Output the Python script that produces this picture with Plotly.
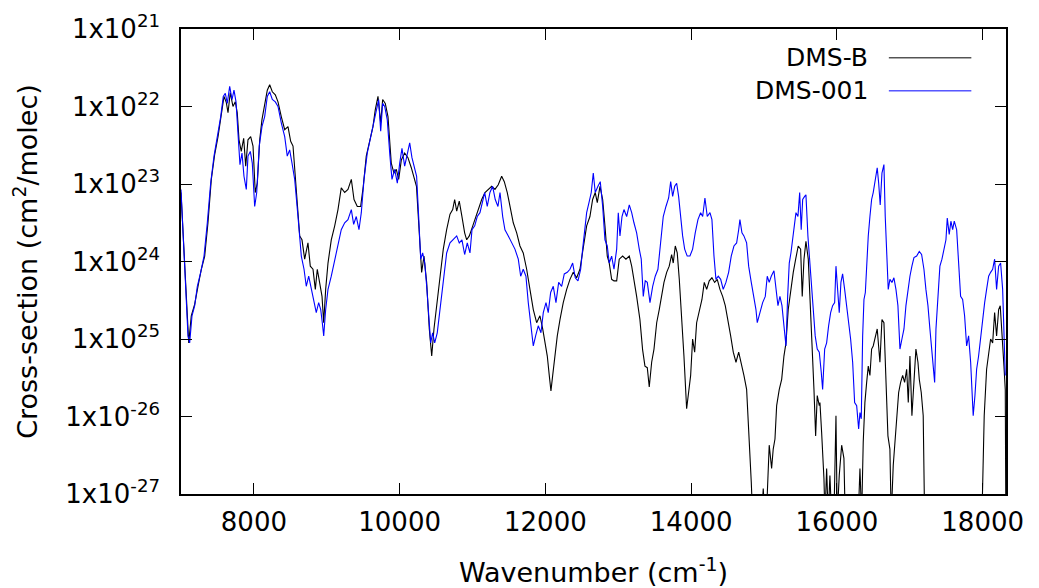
import plotly.graph_objects as go

# ---------------- data ----------------
# Wavenumber (cm^-1) and log10 of cross-section (cm^2/molec)
dmsb_wn = [7000, 7106, 7141, 7188, 7233, 7279, 7325, 7370, 7416, 7462, 7508, 7553, 7590, 7622, 7645,
           7676, 7713, 7745, 7772, 7796, 7827, 7860, 7888, 7919, 7956, 7988, 8019, 8047, 8080, 8111,
           8148, 8184, 8217, 8253, 8294, 8331, 8376, 8423, 8468, 8505, 8537, 8582, 8629, 8660, 8697,
           8742, 8774, 8811, 8843, 8870, 8903, 8935, 8958, 8985, 9017, 9062, 9109, 9154, 9199, 9246,
           9291, 9337, 9374, 9419, 9465, 9501, 9542, 9589, 9634, 9666, 9703, 9740, 9767, 9803, 9840,
           9885, 9922, 9954, 9987, 10023, 10069, 10114, 10160, 10231, 10269, 10302, 10334, 10371, 10407,
           10440, 10471, 10508, 10553, 10599, 10645, 10691, 10728, 10755, 10783, 10818, 10855, 10892,
           10920, 10956, 10993, 11034, 11079, 11126, 11171, 11216, 11263, 11308, 11353, 11400, 11436,
           11477, 11514, 11559, 11606, 11651, 11696, 11743, 11788, 11834, 11880, 11925, 11963, 11994,
           12026, 12053, 12076, 12100, 12131, 12163, 12200, 12245, 12292, 12337, 12382, 12429, 12474,
           12520, 12566, 12611, 12648, 12684, 12712, 12749, 12786, 12817, 12849, 12876, 12909, 12941,
           12978, 13013, 13060, 13105, 13151, 13184, 13215, 13252, 13297, 13334, 13366, 13398, 13425,
           13458, 13490, 13527, 13562, 13595, 13627, 13664, 13699, 13732, 13754, 13782, 13809, 13837,
           13870, 13901, 13938, 13966, 13993, 14020, 14048, 14075, 14111, 14148, 14180, 14213, 14248,
           14285, 14322, 14358, 14395, 14432, 14468, 14505, 14542, 14578, 14615, 14652, 14687, 14724,
           14761, 14797, 14825, 14844, 14903, 14930, 14967, 14989, 15012, 15036, 15071, 15104, 15126,
           15150, 15173, 15209, 15242, 15273, 15301, 15332, 15365, 15401, 15434, 15469, 15502, 15524,
           15548, 15575, 15607, 15639, 15667, 15685, 15708, 15730, 15758, 15767, 15790, 15804, 15822,
           15836, 15859, 15881, 15904, 15928, 15959, 15987, 16004, 16032, 16065, 16096, 16114, 16206,
           16293, 16316, 16339, 16361, 16384, 16408, 16430, 16453, 16476, 16498, 16526, 16553, 16590,
           16618, 16645, 16673, 16700, 16727, 16745, 16773, 16796, 16819, 16847, 16874, 16902, 16929,
           16957, 16979, 17002, 17029, 17057, 17084, 17112, 17130, 17157, 17184, 17203, 17551, 17990,
           18008, 18021, 18054, 18082, 18109, 18137, 18164, 18191, 18219, 18241, 18264, 18292, 18310,
           18318]
dmsb_log10 = [-23.11, -25.05, -24.70, -24.55, -24.32, -24.10, -23.93, -23.50, -22.94, -22.62, -22.39,
              -22.09, -21.87, -21.95, -22.08, -21.82, -22.00, -21.94, -22.08, -22.43, -22.58, -22.41,
              -22.77, -22.43, -22.39, -22.51, -23.11, -22.99, -22.43, -22.17, -22.00, -21.79, -21.72,
              -21.81, -21.85, -21.94, -22.13, -22.30, -22.26, -22.45, -22.51, -23.03, -23.67, -23.72,
              -23.97, -23.76, -24.06, -24.10, -24.36, -24.10, -24.27, -24.45, -24.79, -24.36, -24.02,
              -23.72, -23.54, -23.33, -23.05, -23.11, -23.07, -22.94, -23.20, -23.29, -23.29, -23.03,
              -22.64, -22.43, -22.26, -22.04, -21.87, -22.21, -21.91, -21.96, -22.13, -22.73, -22.86,
              -22.81, -22.94, -22.69, -22.60, -22.66, -22.79, -23.03, -23.63, -24.14, -23.93, -24.27,
              -24.87, -25.22, -24.87, -24.57, -24.27, -23.84, -23.59, -23.39, -23.33, -23.20, -23.35,
              -23.22, -23.42, -23.63, -23.72, -23.67, -23.57, -23.46, -23.33, -23.20, -23.11, -23.07,
              -23.03, -23.07, -23.01, -22.90, -22.97, -23.11, -23.29, -23.50, -23.63, -23.80, -23.89,
              -24.10, -24.36, -24.62, -24.79, -24.70, -24.87, -25.05, -25.22, -25.47, -25.67, -25.47,
              -25.22, -24.96, -24.75, -24.53, -24.36, -24.23, -24.14, -24.21, -24.10, -23.84, -23.54,
              -23.42, -23.20, -23.11, -23.24, -23.03, -23.20, -23.54, -23.93, -24.02, -24.23, -24.25,
              -24.25, -23.97, -23.93, -23.97, -23.93, -24.06, -24.23, -24.45, -24.75, -25.14, -25.35,
              -25.37, -25.62, -25.30, -25.13, -24.79, -24.62, -24.45, -24.27, -24.14, -24.06, -23.91,
              -24.02, -23.80, -23.89, -24.23, -24.70, -25.22, -25.90, -25.65, -25.47, -25.00, -25.17,
              -24.79, -24.62, -24.49, -24.27, -24.36, -24.25, -24.21, -24.27, -24.23, -24.36, -24.45,
              -24.57, -24.75, -24.96, -25.17, -25.30, -25.17, -25.30, -25.47, -25.65, -26.25, -26.85,
              -27.30, -27.50, -27.50, -27.30, -26.93, -27.30, -27.20, -26.37, -26.67, -26.42, -26.29,
              -25.86, -25.65, -25.52, -25.22, -25.05, -24.62, -24.36, -24.14, -23.97, -23.80, -23.84,
              -24.45, -23.97, -23.74, -23.97, -24.62, -25.13, -25.65, -26.25, -25.73, -25.86, -25.82,
              -26.20, -26.42, -26.80, -27.30, -26.67, -27.30, -26.76, -27.30, -27.30, -25.99, -27.30,
              -26.76, -26.37, -26.54, -27.30, -27.50, -27.30, -26.67, -27.30, -26.33, -25.82, -25.56,
              -25.35, -25.47, -25.13, -25.09, -24.96, -24.87, -25.30, -24.75, -24.79, -25.56, -26.25,
              -26.42, -27.30, -26.63, -26.33, -25.95, -25.69, -25.56, -25.47, -25.56, -25.39, -25.82,
              -25.22, -25.99, -25.52, -25.13, -25.30, -25.52, -25.69, -25.99, -27.30, -27.50, -27.30,
              -26.67, -25.99, -25.39, -25.22, -25.00, -25.05, -24.66, -24.96, -24.62, -24.57, -24.87,
              -25.35, -25.65, -27.30]

dms001_wn = [7000, 7051, 7096, 7119, 7151, 7188, 7224, 7270, 7316, 7361, 7407, 7453, 7498, 7545, 7580,
             7608, 7635, 7668, 7700, 7727, 7755, 7782, 7809, 7837, 7864, 7896, 7919, 7951, 7978, 8011,
             8039, 8074, 8111, 8148, 8184, 8217, 8253, 8294, 8331, 8376, 8423, 8458, 8491, 8523, 8560,
             8605, 8651, 8688, 8719, 8752, 8788, 8825, 8856, 8889, 8917, 8939, 8958, 8985, 9017, 9062,
             9109, 9154, 9199, 9246, 9291, 9337, 9369, 9405, 9442, 9474, 9511, 9556, 9603, 9648, 9685,
             9712, 9740, 9767, 9795, 9830, 9867, 9895, 9932, 9968, 10001, 10032, 10069, 10105, 10138,
             10169, 10215, 10233, 10261, 10289, 10316, 10344, 10371, 10398, 10426, 10453, 10481, 10516,
             10553, 10599, 10645, 10691, 10736, 10783, 10818, 10855, 10892, 10928, 10965, 10993, 11030,
             11065, 11102, 11139, 11167, 11202, 11239, 11276, 11312, 11349, 11377, 11414, 11445, 11491,
             11537, 11582, 11628, 11661, 11696, 11733, 11765, 11798, 11834, 11866, 11902, 11939, 11971,
             12008, 12039, 12072, 12108, 12145, 12182, 12223, 12259, 12300, 12337, 12374, 12410, 12447,
             12484, 12511, 12539, 12566, 12598, 12629, 12657, 12684, 12721, 12753, 12786, 12817, 12849,
             12876, 12909, 12941, 12978, 13000, 13023, 13051, 13078, 13115, 13151, 13184, 13215, 13252,
             13288, 13315, 13343, 13370, 13398, 13435, 13472, 13507, 13544, 13581, 13617, 13654, 13691,
             13719, 13746, 13774, 13801, 13828, 13856, 13883, 13911, 13946, 13983, 14020, 14056, 14093,
             14130, 14158, 14189, 14221, 14258, 14285, 14313, 14340, 14372, 14405, 14440, 14477, 14514,
             14550, 14587, 14624, 14652, 14669, 14697, 14724, 14761, 14789, 14825, 14862, 14889, 14907,
             14944, 14981, 15017, 15044, 15071, 15099, 15136, 15163, 15191, 15218, 15246, 15273, 15301,
             15324, 15346, 15369, 15393, 15415, 15438, 15465, 15489, 15510, 15530, 15557, 15575, 15602,
             15630, 15653, 15675, 15702, 15730, 15758, 15785, 15804, 15832, 15859, 15886, 15914, 15941,
             15969, 15987, 16014, 16032, 16055, 16078, 16106, 16133, 16161, 16188, 16216, 16243, 16271,
             16298, 16316, 16334, 16353, 16371, 16390, 16408, 16430, 16453, 16476, 16498, 16526, 16553,
             16573, 16594, 16618, 16645, 16663, 16682, 16704, 16727, 16755, 16782, 16810, 16837, 16865,
             16892, 16920, 16947, 16974, 17002, 17029, 17057, 17094, 17130, 17162, 17194, 17221, 17249,
             17276, 17304, 17322, 17341, 17359, 17376, 17396, 17413, 17441, 17468, 17496, 17514, 17541,
             17564, 17588, 17610, 17643, 17670, 17697, 17725, 17752, 17780, 17807, 17835, 17853, 17870,
             17894, 17917, 17944, 17972, 17999, 18027, 18054, 18082, 18109, 18137, 18164, 18191, 18219,
             18246, 18274, 18292, 18310]
dms001_log10 = [-23.07, -24.10, -24.96, -25.05, -24.70, -24.57, -24.32, -24.14, -23.93, -23.50, -22.99,
                -22.64, -22.39, -22.13, -21.87, -21.83, -21.96, -21.74, -21.91, -21.79, -21.94, -22.34,
                -22.75, -22.60, -22.90, -23.07, -22.64, -22.58, -22.73, -23.29, -23.11, -22.51, -22.26,
                -22.13, -21.87, -21.81, -21.91, -21.94, -22.00, -22.21, -22.39, -22.64, -22.56, -22.73,
                -22.94, -23.42, -23.93, -24.10, -24.32, -24.19, -24.36, -24.53, -24.66, -24.53, -24.62,
                -24.79, -24.96, -24.62, -24.36, -24.19, -23.97, -23.76, -23.59, -23.50, -23.46, -23.33,
                -23.52, -23.42, -23.59, -23.37, -22.94, -22.60, -22.39, -22.21, -22.00, -21.91, -22.32,
                -21.96, -22.00, -22.17, -22.64, -22.94, -22.81, -22.99, -22.73, -22.54, -22.77, -22.60,
                -22.47, -22.66, -22.81, -22.90, -23.42, -23.97, -23.89, -24.02, -24.32, -24.70, -25.05,
                -24.92, -25.05, -24.92, -24.62, -24.19, -23.89, -23.76, -23.72, -23.67, -23.76, -23.72,
                -23.91, -23.76, -23.89, -23.59, -23.54, -23.42, -23.37, -23.20, -23.11, -23.29, -23.11,
                -23.03, -23.20, -23.29, -23.11, -23.42, -23.59, -23.67, -23.76, -23.84, -23.97, -24.19,
                -24.10, -24.19, -24.53, -24.79, -25.09, -24.96, -24.83, -24.92, -24.66, -24.53, -24.66,
                -24.40, -24.32, -24.53, -24.27, -24.32, -24.16, -24.14, -24.10, -24.02, -24.21, -24.25,
                -24.10, -23.84, -23.59, -23.37, -23.24, -23.11, -22.86, -23.11, -23.03, -22.97, -23.29,
                -23.72, -23.80, -24.02, -23.93, -24.10, -23.84, -23.37, -23.67, -23.42, -23.33, -23.42,
                -23.27, -23.37, -23.50, -23.63, -23.84, -23.97, -24.45, -24.25, -24.27, -24.53, -24.32,
                -24.19, -24.10, -23.76, -23.42, -23.29, -23.18, -22.97, -23.16, -23.03, -22.99, -23.16,
                -23.46, -23.67, -23.84, -23.93, -23.93, -23.84, -23.63, -23.46, -23.37, -23.42, -23.18,
                -23.42, -23.37, -23.46, -23.93, -24.23, -24.19, -24.23, -24.36, -24.27, -24.14, -23.93,
                -23.80, -23.76, -23.59, -23.46, -23.63, -23.67, -23.76, -24.06, -24.27, -24.45, -24.62,
                -24.79, -24.66, -24.53, -24.45, -24.19, -24.27, -24.19, -24.12, -24.36, -24.57, -24.45,
                -24.57, -24.83, -25.09, -24.45, -24.02, -23.89, -23.72, -23.54, -23.37, -23.42, -23.11,
                -23.59, -23.20, -23.16, -23.14, -23.67, -24.06, -24.36, -24.66, -24.96, -25.13, -25.17,
                -25.43, -25.65, -25.13, -25.05, -24.83, -24.66, -24.57, -24.53, -24.06, -24.36, -24.66,
                -24.27, -24.16, -24.36, -24.57, -24.79, -25.00, -25.30, -25.82, -25.86, -26.16, -25.95,
                -26.03, -24.96, -24.49, -24.40, -24.06, -23.67, -23.42, -23.20, -23.11, -22.97, -22.79,
                -22.99, -23.27, -22.86, -22.75, -23.42, -23.84, -24.36, -24.23, -24.27, -24.21, -24.36,
                -24.57, -25.13, -25.00, -24.87, -24.57, -24.36, -24.19, -24.06, -23.95, -23.93, -23.87,
                -23.91, -24.10, -24.36, -24.57, -24.87, -25.17, -25.30, -25.56, -24.87, -24.62, -24.27,
                -24.06, -23.97, -23.84, -23.72, -23.44, -23.65, -23.48, -23.59, -23.48, -23.59, -24.02,
                -24.45, -24.49, -24.70, -25.09, -24.96, -25.30, -25.65, -25.99, -25.73, -25.39, -25.22,
                -24.96, -24.79, -24.53, -24.36, -24.19, -24.14, -24.10, -23.97, -24.36, -24.06, -24.02,
                -24.36, -24.87, -25.47]

series_names = ["DMS-B", "DMS-001"]
series_colors = ["#000000", "#0000ff"]

x_tick_vals = [8000, 10000, 12000, 14000, 16000, 18000]
y_tick_vals = [1e-21, 1e-22, 1e-23, 1e-24, 1e-25, 1e-26, 1e-27]
y_tick_text = ["1x10<sup>21</sup>", "1x10<sup>22</sup>", "1x10<sup>23</sup>", "1x10<sup>24</sup>",
               "1x10<sup>25</sup>", "1x10<sup>-26</sup>", "1x10<sup>-27</sup>"]

# ---------------- figure ----------------
FONT = "DejaVu Sans"
fig = go.Figure()
for wn, lg, name, col in [(dmsb_wn, dmsb_log10, series_names[0], series_colors[0]),
                          (dms001_wn, dms001_log10, series_names[1], series_colors[1])]:
    fig.add_trace(go.Scatter(x=wn, y=[10 ** v for v in lg], mode="lines", name=name,
                             line=dict(color=col, width=1.1), showlegend=False))

# gnuplot-style key: text right-aligned, sample line to its right
key_rows = [0.938, 0.867]
for name, col, yk in zip(series_names, series_colors, key_rows):
    fig.add_annotation(xref="paper", yref="paper", x=0.835, y=yk, text=name, showarrow=False,
                       xanchor="right", yanchor="middle", font=dict(family=FONT, size=25, color="black"))
    fig.add_shape(type="line", xref="paper", yref="paper", x0=0.858, x1=0.958, y0=yk, y1=yk,
                  line=dict(color=col, width=1))

axis_common = dict(showline=True, linecolor="black", linewidth=1.5, mirror="ticks",
                   ticks="inside", ticklen=11, tickcolor="black", tickwidth=1,
                   showgrid=False, zeroline=False, automargin=False,
                   tickfont=dict(family=FONT, size=26, color="black"))

fig.update_xaxes(range=[7000, 18320], tickvals=x_tick_vals,
                 ticktext=[str(v) for v in x_tick_vals], ticklabelstandoff=4,
                 title=dict(text="Wavenumber (cm<sup>-1</sup>)", standoff=30,
                            font=dict(family=FONT, size=27, color="black")),
                 **axis_common)
fig.update_yaxes(type="log", range=[-27, -21], tickvals=y_tick_vals, ticktext=y_tick_text,
                 ticklabelstandoff=14,
                 title=dict(text="Cross-section (cm<sup>2</sup>/molec)", standoff=20,
                            font=dict(family=FONT, size=27, color="black")),
                 **axis_common)

fig.update_layout(width=1039, height=588, autosize=False,
                  margin=dict(l=181, r=33, t=29, b=94),
                  paper_bgcolor="white", plot_bgcolor="white",
                  font=dict(family=FONT, size=26, color="black"))

fig.write_html("out.html")
